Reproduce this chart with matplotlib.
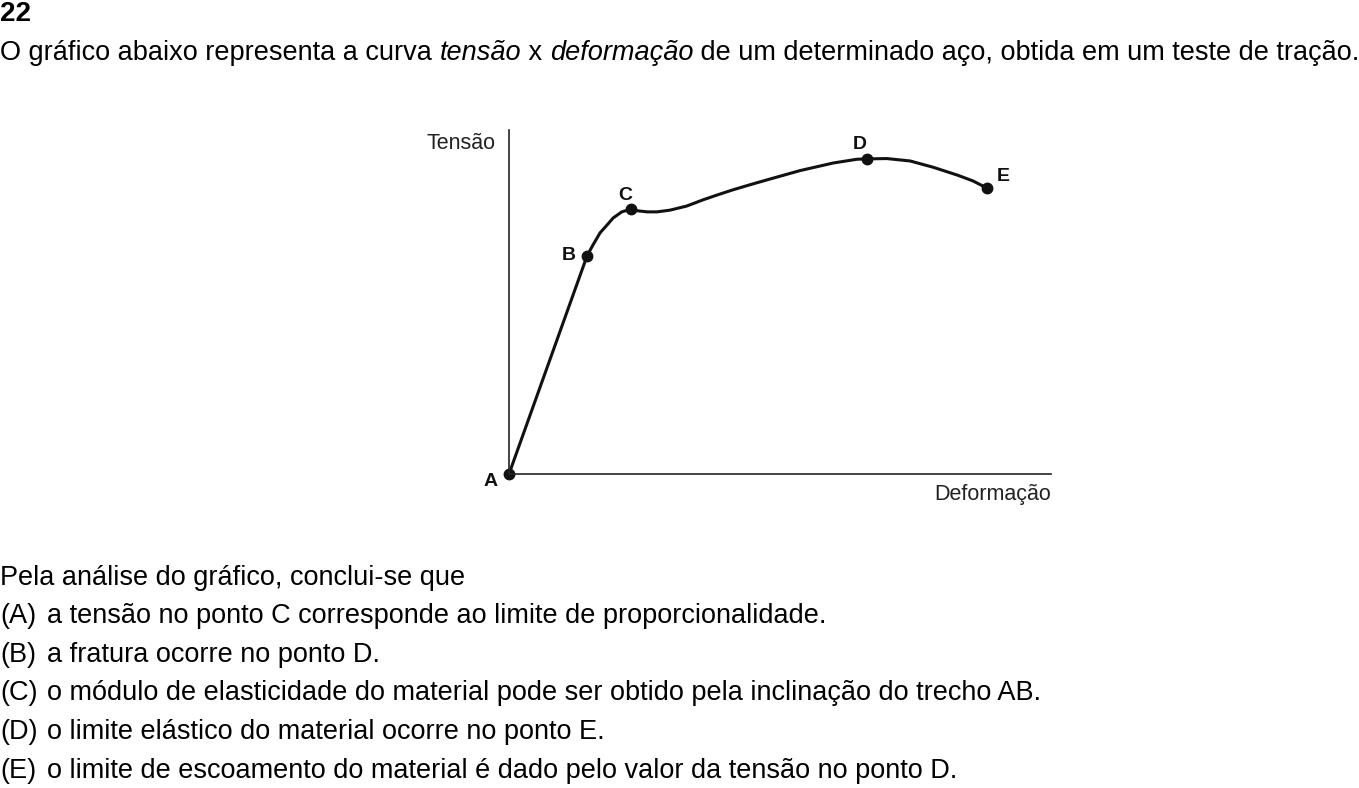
import matplotlib
matplotlib.use("Agg")
import matplotlib.pyplot as plt

# curve (deformacao, tensao), both axes run 0..100
deformacao = [0.0, 14.4, 15.5, 16.8, 18.1, 19.2, 20.8, 22.5, 23.8, 25.5, 27.3,
              29.7, 32.8, 35.8, 38.4, 41.3, 44.5, 47.6, 53.7, 59.8, 64.2, 66.1,
              69.7, 74.0, 78.2, 82.7, 85.6, 88.2]
tensao = [0.0, 63.4, 66.6, 70.1, 72.4, 74.4, 76.2, 77.0, 76.5, 76.2, 76.2,
          76.7, 77.9, 79.7, 81.1, 82.6, 84.1, 85.5, 88.2, 90.4, 91.5, 91.6,
          91.7, 91.0, 89.2, 86.9, 85.2, 83.1]

pontos = ["A", "B", "C", "D", "E"]
pontos_x = [0.0, 14.4, 22.5, 66.1, 88.2]
pontos_y = [0.0, 63.4, 77.0, 91.6, 83.1]

titulo = "22"
enunciado = ["O gráfico abaixo representa a curva ", "tensão", " x ", "deformação",
             " de um determinado aço, obtida em um teste de tração."]
pergunta = "Pela análise do gráfico, conclui-se que"
letras = ["(A)", "(B)", "(C)", "(D)", "(E)"]
opcoes = [
    "a tensão no ponto C corresponde ao limite de proporcionalidade.",
    "a fratura ocorre no ponto D.",
    "o módulo de elasticidade do material pode ser obtido pela inclinação do trecho AB.",
    "o limite elástico do material ocorre no ponto E.",
    "o limite de escoamento do material é dado pelo valor da tensão no ponto D.",
]

W, H = 1359, 788
fig = plt.figure(figsize=(W / 100, H / 100), dpi=100)


def px(x, y):
    return x / W, 1 - y / H


fonte = ["Liberation Sans", "DejaVu Sans"]

fig.text(*px(0, 14), titulo, fontsize=20, fontweight="bold", family=fonte, va="center")

# first line, with italic words
linha1 = [fig.text(*px(0, 53), enunciado[0], fontsize=20, family=fonte, va="center")]
for i, part in enumerate(enunciado[1:], start=1):
    style = "italic" if i in (1, 3) else "normal"
    a = plt.Annotation(part, xy=(1, 0.5), xycoords=linha1[-1], fontsize=20,
                       family=fonte, style=style, va="center", ha="left")
    fig.add_artist(a)
    linha1.append(a)

corpo = [fig.text(*px(0, 578), pergunta, fontsize=20, family=fonte, va="center")]
for k, (l, o) in enumerate(zip(letras, opcoes)):
    y = 616 + k * 38.7
    corpo.append(fig.text(*px(0, y), l, fontsize=20, family=fonte, va="center"))
    corpo.append(fig.text(*px(47, y), o, fontsize=20, family=fonte, va="center"))

# fit widths to the reference
r = fig.canvas.get_renderer()
s1 = 20 * 1354 / linha1[-1].get_window_extent(r).x1
for t in linha1:
    t.set_fontsize(s1)
fim_c = corpo[6].get_window_extent(r).x1
s2 = 20 * 1038 / fim_c
for t in corpo:
    t.set_fontsize(s2)

# chart
ax = fig.add_axes([509 / W, 1 - 474 / H, 542 / W, 344 / H])
ax.set_xlim(0, 100)
ax.set_ylim(0, 100)
for s in ["top", "right"]:
    ax.spines[s].set_visible(False)
for s in ["left", "bottom"]:
    ax.spines[s].set_linewidth(1.2)
    ax.spines[s].set_color("#222222")
ax.set_xticks([])
ax.set_yticks([])
ax.patch.set_alpha(0)

ax.plot(deformacao, tensao, color="#111111", lw=2.2, solid_joinstyle="round",
        solid_capstyle="round", clip_on=False)
ax.plot(pontos_x, pontos_y, "o", color="#111111", ms=7.5, clip_on=False)

off = {"A": (-18, -8), "B": (-18, 0), "C": (-6, 14), "D": (-8, 14), "E": (16, 12)}
for p, x, y in zip(pontos, pontos_x, pontos_y):
    dx, dy = off[p]
    ax.annotate(p, (x, y), xytext=(dx * 0.72, dy * 0.72), textcoords="offset points",
                ha="center", va="center", fontsize=14, fontweight="bold",
                family=fonte, color="#111111")

ax.text(-0.025, 0.96, "Tensão", transform=ax.transAxes, ha="right", va="center",
        fontsize=15.5, family=fonte, color="#222222")
ax.text(1.0, -0.06, "Deformação", transform=ax.transAxes, ha="right", va="center",
        fontsize=15.5, family=fonte, color="#222222")

fig.savefig("out.png", dpi=100)
